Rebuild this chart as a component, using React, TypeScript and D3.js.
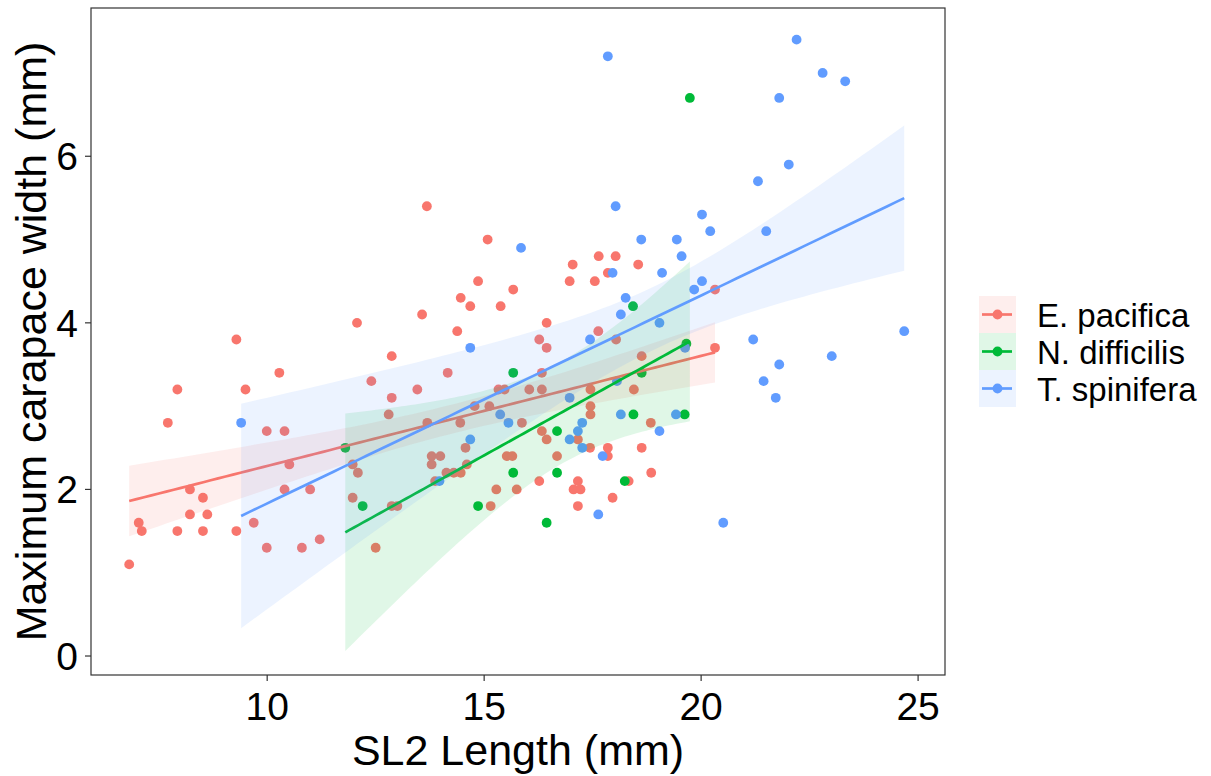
import React from 'react';
import * as d3 from 'd3';

// ---------- data ----------
const SPECIES = ['E. pacifica', 'N. difficilis', 'T. spinifera'];
const COLORS = ['#F8766D', '#00BA38', '#619CFF'];

const pacificaSL2 = [6.82, 7.04, 7.11, 7.71, 7.93, 7.93, 8.22, 8.22, 8.52, 8.52, 8.62, 9.29, 9.29, 9.5, 9.69, 9.99, 9.99, 10.28, 10.4, 10.4, 10.51, 10.8, 10.99, 11.21, 11.97, 12.09, 11.97, 12.07, 12.4, 12.5, 12.8, 12.87, 12.87, 12.87, 13.0, 13.46, 13.57, 13.68, 13.69, 13.79, 13.99, 13.79, 13.87, 14.16, 14.13, 14.3, 14.46, 14.38, 14.46, 14.45, 14.57, 14.6, 14.68, 14.78, 14.86, 15.08, 15.12, 15.15, 15.28, 15.33, 15.47, 15.38, 15.52, 15.65, 15.67, 15.75, 15.87, 16.04, 16.27, 16.33, 16.33, 16.33, 16.27, 16.44, 16.44, 16.44, 16.68, 16.97, 17.04, 17.16, 17.06, 17.22, 17.16, 17.16, 17.45, 17.45, 17.45, 17.44, 17.55, 17.63, 17.64, 17.85, 17.85, 17.85, 17.96, 18.03, 18.04, 18.33, 18.45, 18.55, 18.63, 18.63, 18.84, 18.85, 20.32, 20.32];
const pacificaWidth = [1.1, 1.6, 1.5, 2.8, 3.2, 1.5, 2.0, 1.7, 1.9, 1.5, 1.7, 3.8, 1.5, 3.2, 1.6, 2.7, 1.3, 3.4, 2.7, 2.0, 2.3, 1.3, 2.0, 1.4, 2.3, 2.2, 1.9, 4.0, 3.3, 1.3, 2.9, 3.6, 3.1, 1.8, 1.8, 3.2, 4.1, 5.4, 2.8, 2.4, 2.4, 2.3, 2.1, 3.4, 2.2, 2.2, 2.2, 3.9, 4.3, 2.8, 2.5, 2.3, 4.2, 3.0, 4.5, 5.0, 3.0, 1.8, 2.0, 3.2, 3.2, 4.2, 2.4, 2.4, 4.4, 2.0, 2.8, 3.2, 3.8, 3.4, 3.2, 2.7, 2.1, 4.0, 3.7, 2.6, 2.4, 4.5, 4.7, 2.6, 2.0, 2.0, 2.1, 1.8, 3.2, 3.0, 2.9, 2.5, 4.5, 3.9, 4.8, 4.6, 2.5, 2.4, 1.9, 4.8, 3.8, 2.1, 3.2, 4.7, 3.6, 2.5, 2.8, 2.2, 4.4, 3.7];

const difficilisSL2 = [11.8, 12.2, 14.86, 15.67, 15.67, 16.44, 16.68, 16.68, 18.24, 18.43, 18.44, 18.63, 19.62, 19.66, 19.74];
const difficilisWidth = [2.5, 1.8, 1.8, 3.4, 2.2, 1.6, 2.7, 2.2, 2.1, 4.2, 2.9, 3.4, 2.9, 3.75, 6.7];

const spiniferaSL2 = [9.4, 13.97, 14.68, 14.68, 15.37, 15.56, 15.85, 16.97, 16.97, 17.16, 17.26, 17.26, 17.44, 17.63, 17.73, 17.85, 17.96, 18.03, 18.06, 18.15, 18.15, 18.26, 18.62, 19.04, 19.04, 19.1, 19.42, 19.44, 19.55, 19.63, 19.84, 20.02, 20.02, 20.21, 20.51, 21.2, 21.31, 21.44, 21.5, 21.72, 21.8, 21.8, 22.02, 22.2, 22.8, 23.01, 23.32, 24.68];
const spiniferaWidth = [2.8, 2.1, 3.7, 2.6, 2.9, 2.8, 4.9, 3.1, 2.6, 2.7, 2.8, 2.5, 3.8, 1.7, 2.4, 7.2, 4.6, 5.4, 3.3, 4.1, 2.9, 4.3, 5.0, 4.0, 2.7, 4.6, 2.9, 5.0, 4.8, 3.7, 4.4, 5.3, 4.5, 5.1, 1.6, 3.8, 5.7, 3.3, 5.1, 3.1, 6.7, 3.5, 5.9, 7.4, 7.0, 3.6, 6.9, 3.9];

const X_TICKS = [10, 15, 20, 25];
const Y_TICKS = [0, 2, 4, 6];
const X_DOMAIN = [5.94, 25.62];
const Y_DOMAIN = [-0.228, 7.78];
const X_TITLE = 'SL2 Length (mm)';
const Y_TITLE = 'Maximum carapace width (mm)';

// ---------- stats ----------
function tQuantile975(df: number) {
  const z = 1.959963985;
  const g1 = (z ** 3 + z) / 4;
  const g2 = (5 * z ** 5 + 16 * z ** 3 + 3 * z) / 96;
  const g3 = (3 * z ** 7 + 19 * z ** 5 + 17 * z ** 3 - 15 * z) / 384;
  const g4 = (79 * z ** 9 + 776 * z ** 7 + 1482 * z ** 5 - 1920 * z ** 3 - 945 * z) / 92160;
  return z + g1 / df + g2 / df ** 2 + g3 / df ** 3 + g4 / df ** 4;
}

function fitLm(xs: number[], ys: number[]) {
  const n = xs.length;
  const mx = d3.mean(xs)!;
  const my = d3.mean(ys)!;
  let sxx = 0, sxy = 0;
  for (let i = 0; i < n; i++) {
    sxx += (xs[i] - mx) ** 2;
    sxy += (xs[i] - mx) * (ys[i] - my);
  }
  const b = sxy / sxx;
  const a = my - b * mx;
  let sse = 0;
  for (let i = 0; i < n; i++) sse += (ys[i] - a - b * xs[i]) ** 2;
  const s = Math.sqrt(sse / (n - 2));
  const t = tQuantile975(n - 2);
  const [x0, x1] = d3.extent(xs) as [number, number];
  return d3.range(80).map((i) => {
    const x = x0 + ((x1 - x0) * i) / 79;
    const y = a + b * x;
    const se = s * Math.sqrt(1 / n + (x - mx) ** 2 / sxx);
    return { x, y, lo: y - t * se, hi: y + t * se };
  });
}

const groups = [
  { xs: pacificaSL2, ys: pacificaWidth },
  { xs: difficilisSL2, ys: difficilisWidth },
  { xs: spiniferaSL2, ys: spiniferaWidth },
].map((g, i) => ({ ...g, name: SPECIES[i], color: COLORS[i], fit: fitLm(g.xs, g.ys) }));

// ---------- layout ----------
const W = 1211, H = 776;
const P = { l: 91, r: 945, t: 8, b: 675 };
const FONT = '"Liberation Sans", Arial, sans-serif';

const x = d3.scaleLinear().domain(X_DOMAIN).range([P.l, P.r]);
const y = d3.scaleLinear().domain(Y_DOMAIN).range([P.b, P.t]);

const area = d3.area<any>().x((d) => x(d.x)).y0((d) => y(d.lo)).y1((d) => y(d.hi));
const line = d3.line<any>().x((d) => x(d.x)).y((d) => y(d.y));

export default function App() {
  const legX = 979, legY = 296, keyW = 37, keyH = 37;
  return (
    <svg width={W} height={H} style={{ position: 'absolute', left: 0, top: 0, background: '#fff' }} fontFamily={FONT}>
      <defs>
        <clipPath id="panel">
          <rect x={P.l} y={P.t} width={P.r - P.l} height={P.b - P.t} />
        </clipPath>
      </defs>
      <rect x={0} y={0} width={W} height={H} fill="#fff" />
      <g clipPath="url(#panel)">
        {groups.map((g, gi) => (
          <g key={'p' + gi}>
            {g.xs.map((v, i) => (
              <circle key={i} cx={x(v)} cy={y(g.ys[i])} r={4.9} fill={g.color} />
            ))}
          </g>
        ))}
        {groups.map((g, gi) => (
          <g key={'s' + gi}>
            <path d={area(g.fit)!} fill={g.color} fillOpacity={0.12} />
            <path d={line(g.fit)!} fill="none" stroke={g.color} strokeWidth={2.7} />
          </g>
        ))}
      </g>
      <rect x={P.l} y={P.t} width={P.r - P.l} height={P.b - P.t} fill="none" stroke="#333" strokeWidth={1.2} />
      {X_TICKS.map((t) => (
        <g key={'x' + t}>
          <line x1={x(t)} x2={x(t)} y1={P.b} y2={P.b + 6} stroke="#333" strokeWidth={1.2} />
          <text x={x(t)} y={720} textAnchor="middle" fontSize={39} fill="#000">{t}</text>
        </g>
      ))}
      {Y_TICKS.map((t) => (
        <g key={'y' + t}>
          <line x1={P.l - 6} x2={P.l} y1={y(t)} y2={y(t)} stroke="#333" strokeWidth={1.2} />
          <text x={78} y={y(t) + 14} textAnchor="end" fontSize={39} fill="#000">{t}</text>
        </g>
      ))}
      <text x={(P.l + P.r) / 2} y={765} textAnchor="middle" fontSize={43} fill="#000">{X_TITLE}</text>
      <text transform={`translate(46,${(P.t + P.b) / 2}) rotate(-90)`} textAnchor="middle" fontSize={43} fill="#000">{Y_TITLE}</text>
      {groups.map((g, i) => {
        const cy = legY + keyH * i + keyH / 2;
        return (
          <g key={'l' + i}>
            <rect x={legX} y={legY + keyH * i} width={keyW} height={keyH} fill={g.color} fillOpacity={0.12} />
            <line x1={legX + 3} x2={legX + keyW - 4} y1={cy} y2={cy} stroke={g.color} strokeWidth={2.7} />
            <circle cx={legX + keyW / 2} cy={cy} r={4.9} fill={g.color} />
            <text x={1037} y={cy + 12} fontSize={33} fill="#000">{g.name}</text>
          </g>
        );
      })}
    </svg>
  );
}
